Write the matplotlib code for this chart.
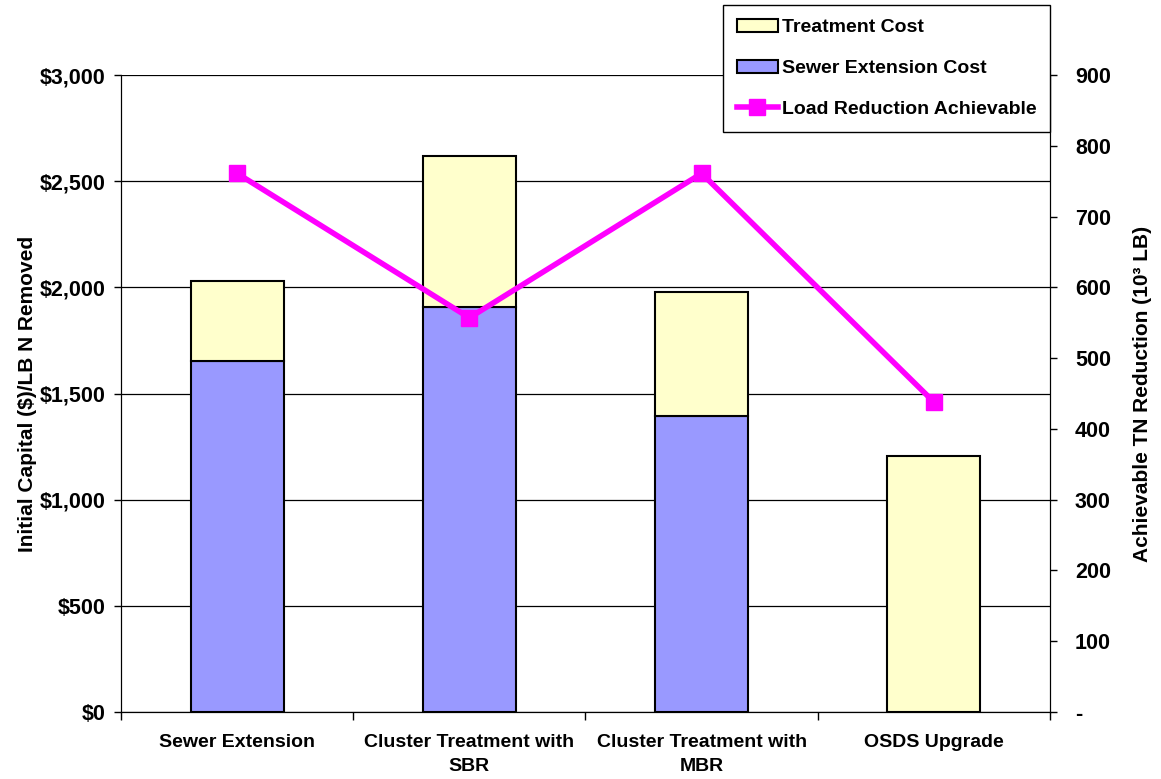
import matplotlib
matplotlib.use("Agg")
import matplotlib.pyplot as plt
from matplotlib.ticker import FuncFormatter, FixedLocator

# 各方案的费用和可达到的总氮削减量
categories = ["Sewer Extension", "Cluster Treatment with\nSBR",
              "Cluster Treatment with\nMBR", "OSDS Upgrade"]
sewer_cost = [1653, 1908, 1396, 0]
treatment_cost = [377, 712, 580, 1205]
load_reduction = [761, 557, 761, 438]

plt.rcParams['font.family'] = ['Liberation Sans', 'DejaVu Sans']
plt.rcParams['font.weight'] = 'bold'

fig = plt.figure(figsize=(11.61, 7.79), dpi=100)
ax = fig.add_axes([0.1042, 0.0860, 0.8002, 0.8177])
x = list(range(len(categories)))

# 堆叠柱状图
b1 = ax.bar(x, sewer_cost, width=0.4, color='#9999FF', edgecolor='black',
            linewidth=1.5, zorder=3, label='Sewer Extension Cost')
b2 = ax.bar(x, treatment_cost, width=0.4, bottom=sewer_cost, color='#FFFFCC',
            edgecolor='black', linewidth=1.5, zorder=3, label='Treatment Cost')

ax.set_xlim(-0.5, 3.5)
ax.set_ylim(0, 3000)
ax.set_yticks(range(0, 3001, 500))
ax.yaxis.set_major_formatter(FuncFormatter(lambda v, p: f"${v:,.0f}"))
ax.grid(axis='y', color='black', linewidth=0.9, zorder=0)
ax.spines['top'].set_visible(False)
ax.tick_params(axis='y', direction='out', length=5, width=1, pad=6, labelsize=15.5)

ax.set_xticks(x)
ax.set_xticklabels(categories, fontsize=14, fontweight='bold', linespacing=1.5)
ax.tick_params(axis='x', which='major', length=0, pad=16)
ax.xaxis.set_minor_locator(FixedLocator([-0.5, 0.5, 1.5, 2.5, 3.5]))
ax.tick_params(axis='x', which='minor', direction='out', length=6, width=1)
ax.set_ylabel("Initial Capital ($)/LB N Removed", fontsize=15, fontweight='bold', labelpad=2)

# 右侧坐标轴：削减量折线
ax2 = ax.twinx()
ln, = ax2.plot(x, load_reduction, color='#FF00FF', linewidth=4, marker='s',
               markersize=12, zorder=5, label='Load Reduction Achievable')
ax2.set_ylim(0, 900)
ax2.set_yticks(range(0, 901, 100))
ax2.yaxis.set_major_formatter(FuncFormatter(lambda v, p: "-" if v == 0 else f"{v:.0f}"))
ax2.spines['top'].set_visible(False)
ax2.tick_params(axis='y', direction='out', length=5, width=1, pad=13, labelsize=15.5)
ax2.set_ylabel("Achievable TN Reduction (10³ LB)", fontsize=15, fontweight='bold', labelpad=16)

leg = fig.legend([b2, b1, ln], ['Treatment Cost', 'Sewer Extension Cost', 'Load Reduction Achievable'],
                 loc='upper right', bbox_to_anchor=(0.9044, 0.9936), fontsize=14,
                 frameon=True, fancybox=False, edgecolor='black', framealpha=1,
                 handlelength=2.1, handletextpad=0.2, labelspacing=1.2,
                 borderpad=0.7, borderaxespad=0)
leg.get_frame().set_linewidth(1)

fig.savefig("out.png", dpi=100)
